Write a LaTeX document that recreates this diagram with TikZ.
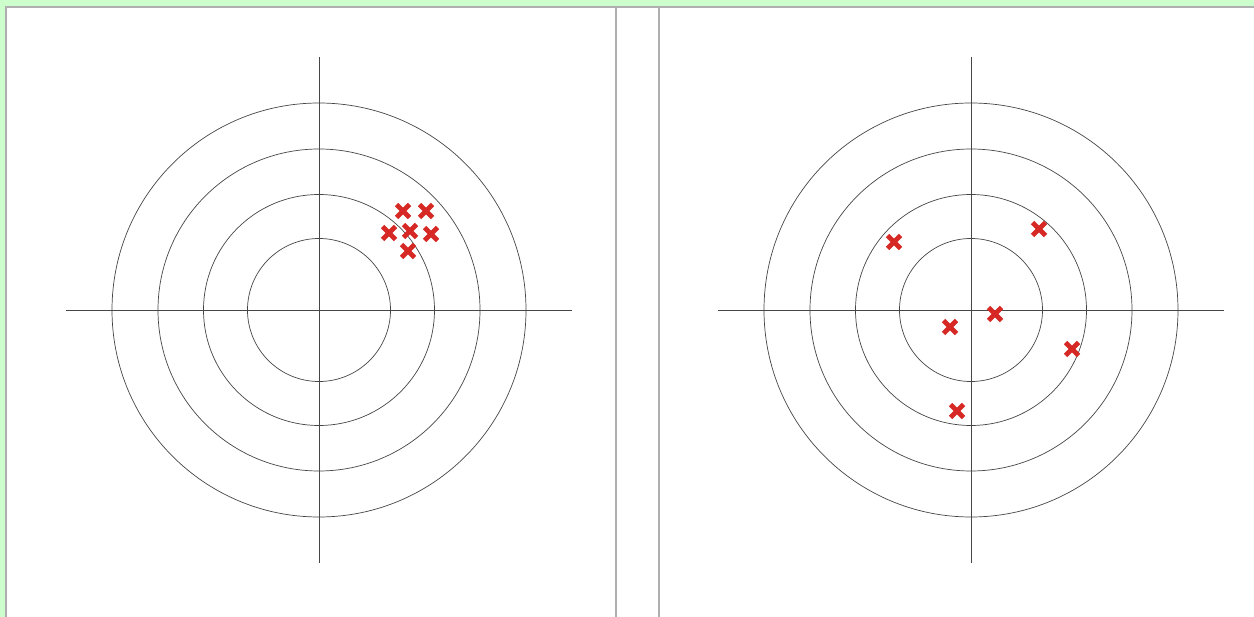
\documentclass[tikz,border=0pt]{standalone}
\definecolor{bggreen}{RGB}{204,255,204}
\definecolor{framegray}{RGB}{175,175,175}
\definecolor{ringgray}{RGB}{70,70,70}
\definecolor{markred}{RGB}{214,40,36}
\begin{document}
\begin{tikzpicture}[x=1pt,y=-1pt,
  frameline/.style={draw=framegray,line width=1.8pt},
  ring/.style={draw=ringgray,line width=0.7pt},
  axisline/.style={draw=ringgray,line width=0.7pt},
  cross/.pic={\draw[markred,line width=4.8pt] (-6.5,-6.5) -- (6.5,6.5) (-6.5,6.5) -- (6.5,-6.5);}
]
\useasboundingbox (0,0) rectangle (1254,617);
\fill[bggreen] (0,0) rectangle (1254,617);
\fill[white] (6,7) rectangle (1254,617);
% frame lines
\draw[frameline] (6,617) -- (6,7) -- (1254,7);
\draw[frameline] (616,7) -- (616,617);
\draw[frameline] (659,7) -- (659,617);
% targets
\foreach \cx in {319,971}{
  \foreach \r in {71.5,115.5,161,207}{
    \draw[ring] (\cx,310) circle (\r);
  }
  \draw[axisline] (\cx,57) -- (\cx,563);
  \draw[axisline] (\cx-253,310) -- (\cx+253,310);
}
% left: clustered shots
\foreach \p in {(403,211),(426,211),(389,233),(410,231),(431,234),(408,251)}{
  \pic at \p {cross};
}
% right: scattered shots
\foreach \p in {(894,242),(1039,229),(950,327),(995,314),(1072,349),(957,411)}{
  \pic at \p {cross};
}
\end{tikzpicture}
\end{document}
